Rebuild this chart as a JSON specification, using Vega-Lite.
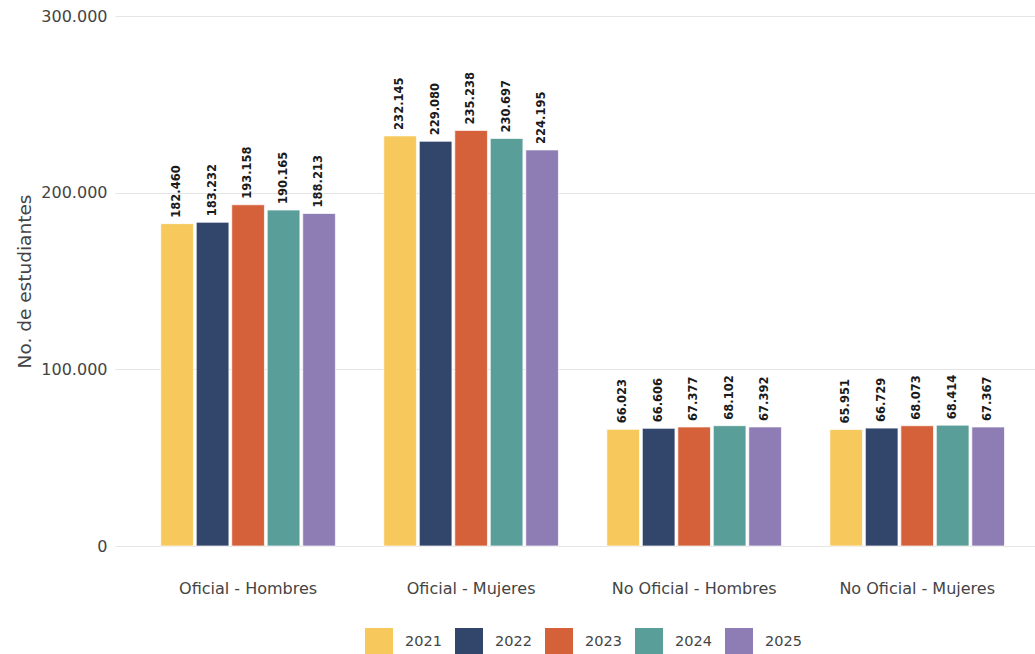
{
  "$schema": "https://vega.github.io/schema/vega-lite/v6.json",
  "width": 920,
  "height": 530,
  "autosize": {"type": "none"},
  "padding": {"left": 115, "top": 16, "right": 0, "bottom": 108},
  "config": {
    "locale": {"number": {"decimal": ",", "thousands": ".", "grouping": [3], "currency": ["$", ""]}},
    "font": "DejaVu Sans",
    "view": {"stroke": null}
  },
  "data": {
    "values": [
      {"grupo": "Oficial - Hombres", "anio": "2021", "valor": 182460},
      {"grupo": "Oficial - Hombres", "anio": "2022", "valor": 183232},
      {"grupo": "Oficial - Hombres", "anio": "2023", "valor": 193158},
      {"grupo": "Oficial - Hombres", "anio": "2024", "valor": 190165},
      {"grupo": "Oficial - Hombres", "anio": "2025", "valor": 188213},
      {"grupo": "Oficial - Mujeres", "anio": "2021", "valor": 232145},
      {"grupo": "Oficial - Mujeres", "anio": "2022", "valor": 229080},
      {"grupo": "Oficial - Mujeres", "anio": "2023", "valor": 235238},
      {"grupo": "Oficial - Mujeres", "anio": "2024", "valor": 230697},
      {"grupo": "Oficial - Mujeres", "anio": "2025", "valor": 224195},
      {"grupo": "No Oficial - Hombres", "anio": "2021", "valor": 66023},
      {"grupo": "No Oficial - Hombres", "anio": "2022", "valor": 66606},
      {"grupo": "No Oficial - Hombres", "anio": "2023", "valor": 67377},
      {"grupo": "No Oficial - Hombres", "anio": "2024", "valor": 68102},
      {"grupo": "No Oficial - Hombres", "anio": "2025", "valor": 67392},
      {"grupo": "No Oficial - Mujeres", "anio": "2021", "valor": 65951},
      {"grupo": "No Oficial - Mujeres", "anio": "2022", "valor": 66729},
      {"grupo": "No Oficial - Mujeres", "anio": "2023", "valor": 68073},
      {"grupo": "No Oficial - Mujeres", "anio": "2024", "valor": 68414},
      {"grupo": "No Oficial - Mujeres", "anio": "2025", "valor": 67367}
    ]
  },
  "encoding": {
    "x": {
      "field": "grupo",
      "type": "nominal",
      "sort": ["Oficial - Hombres", "Oficial - Mujeres", "No Oficial - Hombres", "No Oficial - Mujeres"],
      "scale": {"paddingInner": 0.217, "paddingOuter": 0.171, "align": 0.6},
      "axis": {
        "title": null,
        "labelAngle": 0,
        "labelFontSize": 16,
        "labelColor": "#444444",
        "labelPadding": 34,
        "ticks": false,
        "domain": false
      }
    },
    "xOffset": {
      "field": "anio",
      "type": "nominal",
      "scale": {"paddingInner": 0.08, "paddingOuter": 0}
    },
    "y": {
      "field": "valor",
      "type": "quantitative",
      "scale": {"domain": [0, 300000]},
      "axis": {
        "title": "No. de estudiantes",
        "titleFontSize": 18.5,
        "titleFontWeight": "normal",
        "titleColor": "#444444",
        "titlePadding": 6,
        "values": [0, 100000, 200000, 300000],
        "format": ",d",
        "labelFontSize": 16,
        "labelColor": "#444444",
        "labelPadding": 8,
        "ticks": false,
        "domain": false,
        "gridColor": "#e5e5e5",
        "gridWidth": 1
      }
    }
  },
  "layer": [
    {
      "mark": {"type": "bar", "stroke": "white", "strokeWidth": 1, "strokeOpacity": 0.7},
      "encoding": {
        "color": {
          "field": "anio",
          "type": "nominal",
          "scale": {
            "domain": ["2021", "2022", "2023", "2024", "2025"],
            "range": ["#F7C95C", "#32466B", "#D5613A", "#5A9E9A", "#8E7CB4"]
          },
          "legend": {
            "title": null,
            "orient": "none",
            "legendX": 250,
            "legendY": 612,
            "direction": "horizontal",
            "symbolType": "square",
            "symbolSize": 784,
            "symbolStrokeWidth": 0,
            "symbolOpacity": 1,
            "labelFontSize": 14.5,
            "labelColor": "#444444",
            "columnPadding": 13,
            "labelOffset": 12
          }
        }
      }
    },
    {
      "mark": {"type": "text", "angle": 270, "align": "left", "baseline": "middle", "dx": 6, "fontSize": 11.5, "fontWeight": "bold", "color": "#1a1a1a"},
      "encoding": {
        "text": {"field": "valor", "type": "quantitative", "format": ",d"}
      }
    }
  ]
}
